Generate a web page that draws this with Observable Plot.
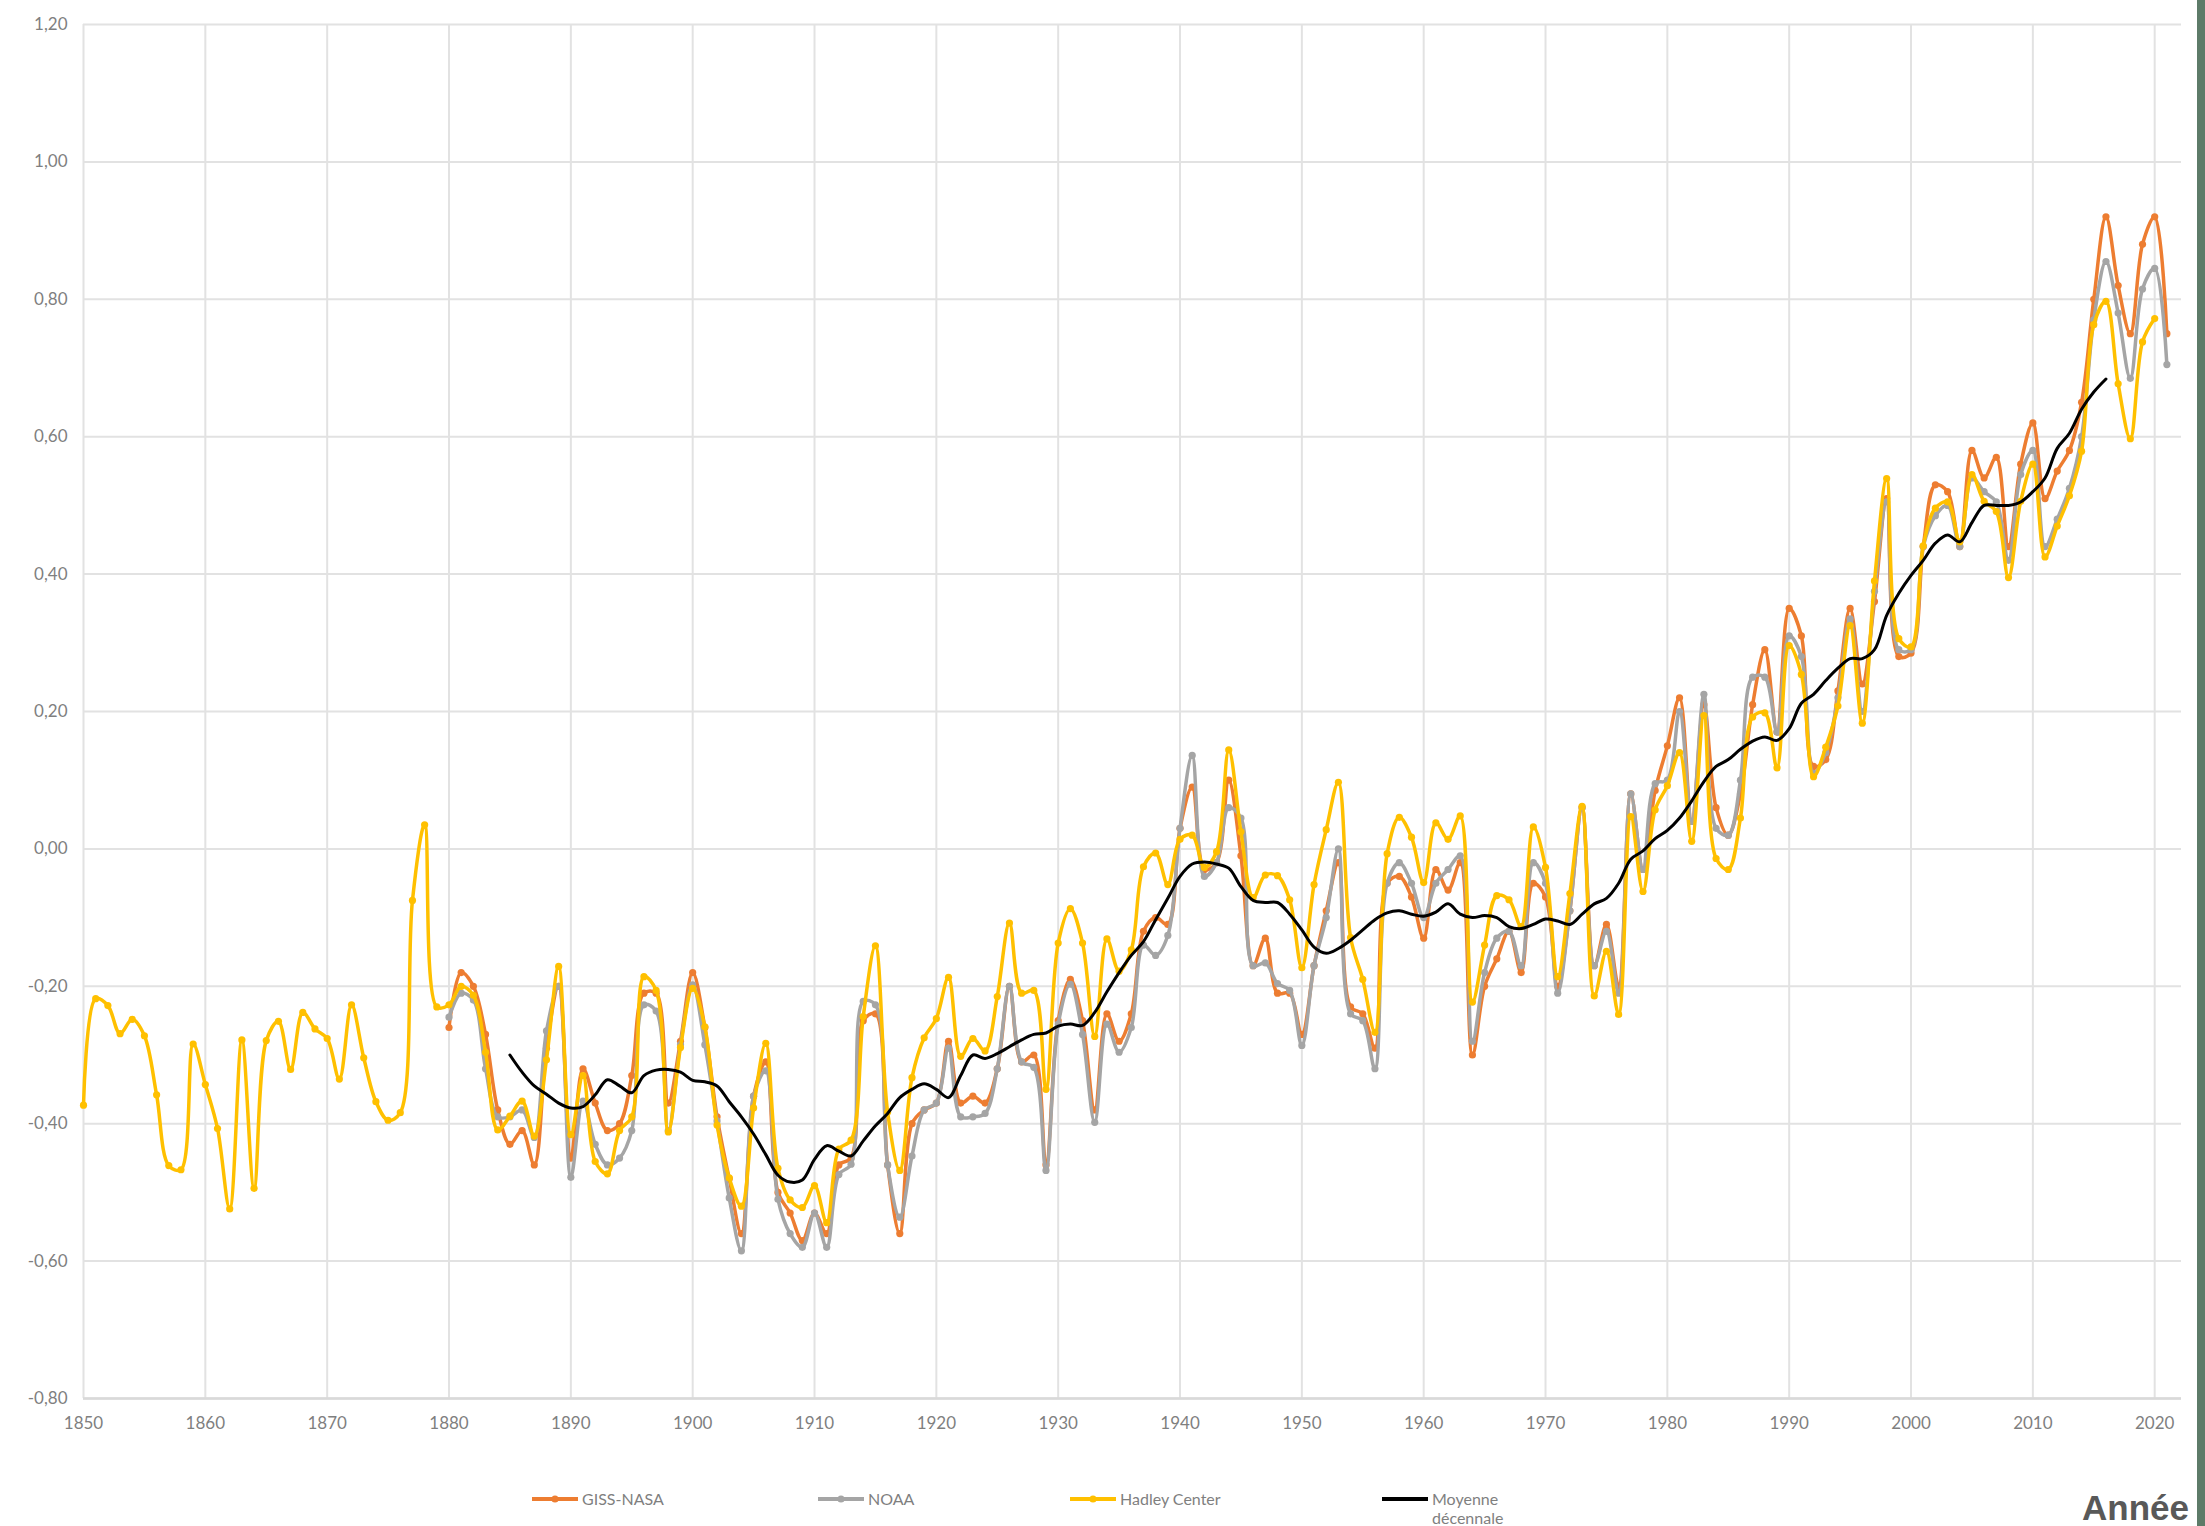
<!DOCTYPE html>
<html><head><meta charset="utf-8">
<script src="https://cdn.jsdelivr.net/npm/d3@7"></script>
<script src="https://cdn.jsdelivr.net/npm/@observablehq/plot@0.6"></script>
<style>
html,body{margin:0;padding:0;background:#fff;}
#wrap{position:relative;width:2205px;height:1526px;overflow:hidden;background:#fff;}
#chart{position:absolute;left:0;top:0;}
.legtxt{position:absolute;font-family:Lato,"Open Sans",sans-serif;font-size:16px;color:#7f7f7f;line-height:19px;white-space:normal;}
.sw{position:absolute;}
#annee{position:absolute;left:2082px;top:1490px;font-family:"Liberation Sans",Arial,sans-serif;font-weight:bold;font-size:35px;color:#595959;line-height:36px;}
#edge{position:absolute;left:2197px;top:0;width:8px;height:1526px;background:#5d7b68;}
</style></head>
<body><div id="wrap"><div id="chart"></div><div id="legend"></div><div id="annee">Année</div><div id="edge"></div></div>
<script>
// ---- data ----
const xTickYears = [1850,1860,1870,1880,1890,1900,1910,1920,1930,1940,1950,1960,1970,1980,1990,2000,2010,2020];
const yTickValues = [-0.8,-0.6,-0.4,-0.2,0,0.2,0.4,0.6,0.8,1.0,1.2];

const seriesNames = ["GISS-NASA","NOAA","Hadley Center","Moyenne décennale"];
const seriesColors = ["#ED7D31","#A5A5A5","#FFC000","#000000"];

const hadleyStart = 1850;
const hadleyValues = [
-0.373,-0.218,-0.228,-0.269,-0.248,-0.272,-0.358,-0.461,-0.467,-0.284,
-0.343,-0.407,-0.524,-0.278,-0.494,-0.279,-0.251,-0.321,-0.238,-0.262,
-0.276,-0.335,-0.227,-0.304,-0.368,-0.395,-0.384,-0.075,0.035,-0.230,
-0.227,-0.200,-0.213,-0.296,-0.409,-0.389,-0.367,-0.418,-0.307,-0.171,
-0.416,-0.330,-0.455,-0.473,-0.410,-0.390,-0.186,-0.206,-0.412,-0.289,
-0.203,-0.259,-0.402,-0.479,-0.520,-0.377,-0.283,-0.465,-0.511,-0.522,
-0.490,-0.544,-0.437,-0.424,-0.244,-0.141,-0.383,-0.468,-0.333,-0.275,
-0.247,-0.187,-0.302,-0.276,-0.294,-0.215,-0.108,-0.210,-0.206,-0.350,
-0.137,-0.087,-0.137,-0.273,-0.131,-0.178,-0.147,-0.026,-0.006,-0.052,
0.014,0.020,-0.027,-0.004,0.144,0.025,-0.071,-0.038,-0.039,-0.074,
-0.173,-0.052,0.028,0.097,-0.129,-0.190,-0.267,-0.007,0.046,0.017,
-0.049,0.038,0.014,0.048,-0.223,-0.140,-0.068,-0.074,-0.113,0.032,
-0.027,-0.186,-0.065,0.062,-0.214,-0.149,-0.241,0.047,-0.062,0.057,
0.092,0.140,0.011,0.194,-0.014,-0.030,0.045,0.192,0.198,0.118,
0.296,0.254,0.105,0.148,0.208,0.325,0.183,0.390,0.539,0.306,
0.294,0.441,0.496,0.505,0.447,0.545,0.506,0.491,0.395,0.506,
0.560,0.425,0.470,0.514,0.579,0.763,0.797,0.677,0.597,0.738,
0.772];

const gissStart = 1880;
const gissValues = [
-0.26,-0.18,-0.20,-0.27,-0.38,-0.43,-0.41,-0.46,-0.29,-0.20,
-0.45,-0.32,-0.37,-0.41,-0.40,-0.33,-0.21,-0.21,-0.37,-0.28,
-0.18,-0.26,-0.39,-0.48,-0.56,-0.36,-0.31,-0.50,-0.53,-0.57,
-0.53,-0.56,-0.46,-0.45,-0.25,-0.24,-0.46,-0.56,-0.40,-0.38,
-0.37,-0.28,-0.37,-0.36,-0.37,-0.32,-0.20,-0.31,-0.30,-0.46,
-0.25,-0.19,-0.25,-0.38,-0.24,-0.28,-0.24,-0.12,-0.10,-0.11,
0.03,0.09,-0.03,-0.02,0.10,-0.01,-0.17,-0.13,-0.21,-0.21,
-0.27,-0.17,-0.09,-0.02,-0.23,-0.24,-0.29,-0.05,-0.04,-0.07,
-0.13,-0.03,-0.06,-0.02,-0.30,-0.20,-0.16,-0.12,-0.18,-0.05,
-0.07,-0.20,-0.09,0.06,-0.17,-0.11,-0.20,0.08,-0.03,0.085,
0.15,0.22,0.04,0.21,0.06,0.02,0.08,0.21,0.29,0.17,
0.35,0.31,0.12,0.13,0.23,0.35,0.24,0.36,0.51,0.28,
0.285,0.44,0.53,0.52,0.44,0.58,0.54,0.57,0.44,0.56,
0.62,0.51,0.55,0.58,0.65,0.80,0.92,0.82,0.75,0.88,
0.92,0.75];

const noaaStart = 1880;
const noaaValues = [
-0.245,-0.21,-0.22,-0.32,-0.39,-0.39,-0.38,-0.42,-0.265,-0.20,
-0.478,-0.367,-0.43,-0.46,-0.45,-0.41,-0.227,-0.236,-0.41,-0.285,
-0.198,-0.285,-0.396,-0.508,-0.585,-0.36,-0.323,-0.51,-0.56,-0.58,
-0.53,-0.58,-0.474,-0.459,-0.222,-0.227,-0.46,-0.536,-0.447,-0.38,
-0.37,-0.29,-0.39,-0.39,-0.385,-0.32,-0.20,-0.31,-0.318,-0.468,
-0.255,-0.197,-0.27,-0.398,-0.255,-0.296,-0.26,-0.14,-0.155,-0.126,
0.03,0.136,-0.04,-0.02,0.06,0.045,-0.17,-0.166,-0.196,-0.206,
-0.286,-0.17,-0.10,0.00,-0.24,-0.25,-0.32,-0.05,-0.02,-0.05,
-0.10,-0.05,-0.03,-0.01,-0.28,-0.18,-0.13,-0.12,-0.17,-0.02,
-0.05,-0.21,-0.09,0.06,-0.17,-0.12,-0.21,0.08,-0.03,0.095,
0.10,0.20,0.04,0.225,0.03,0.02,0.10,0.25,0.25,0.17,
0.31,0.28,0.11,0.14,0.22,0.335,0.20,0.375,0.505,0.29,
0.29,0.44,0.485,0.50,0.44,0.54,0.52,0.505,0.42,0.545,
0.58,0.44,0.48,0.525,0.60,0.77,0.855,0.78,0.685,0.815,
0.845,0.705];

const avgStart = 1885;
const avgValues = [
-0.300,-0.325,-0.345,-0.357,-0.370,-0.377,-0.375,-0.358,-0.336,-0.345,
-0.355,-0.330,-0.322,-0.321,-0.325,-0.337,-0.339,-0.345,-0.368,-0.390,
-0.415,-0.445,-0.475,-0.485,-0.482,-0.452,-0.432,-0.440,-0.447,-0.425,
-0.403,-0.385,-0.362,-0.350,-0.342,-0.350,-0.362,-0.330,-0.300,-0.305,
-0.298,-0.288,-0.278,-0.270,-0.268,-0.258,-0.255,-0.257,-0.238,-0.208,
-0.180,-0.155,-0.135,-0.103,-0.072,-0.040,-0.022,-0.019,-0.022,-0.028,
-0.055,-0.075,-0.078,-0.078,-0.095,-0.118,-0.143,-0.152,-0.145,-0.133,
-0.118,-0.103,-0.093,-0.090,-0.095,-0.098,-0.092,-0.080,-0.095,-0.100,
-0.097,-0.100,-0.113,-0.116,-0.110,-0.102,-0.105,-0.110,-0.095,-0.080,
-0.072,-0.050,-0.015,-0.003,0.015,0.027,0.045,0.070,0.098,0.120,
0.130,0.145,0.157,0.163,0.158,0.175,0.212,0.225,0.245,0.263,
0.277,0.277,0.290,0.340,0.372,0.398,0.420,0.445,0.457,0.447,
0.475,0.500,0.500,0.500,0.505,0.520,0.540,0.583,0.605,0.640,
0.665,0.684];

// ---- build ----
const toRows = (start, vals) => vals.map((v, i) => ({year: start + i, value: v}));
const giss = toRows(gissStart, gissValues);
const noaa = toRows(noaaStart, noaaValues);
const hadley = toRows(hadleyStart, hadleyValues);
const avg = toRows(avgStart, avgValues);

const fmtY = d => d.toFixed(2).replace(".", ",");
const gridColor = "#e2e2e2";
const lw = 3.5, dotR = 3.6;

const chart = Plot.plot({
  width: 2205,
  height: 1440,
  marginLeft: 83,
  marginRight: 24,
  marginTop: 24,
  marginBottom: 42,
  x: {domain: [1850, 2022.2], label: null},
  y: {domain: [-0.8, 1.2], label: null},
  style: {fontFamily: "Lato, 'Open Sans', sans-serif", fontSize: "17px", color: "#7f7f7f", background: "#fff"},
  marks: [
    Plot.ruleX(xTickYears, {stroke: gridColor, strokeWidth: 2}),
    Plot.ruleY(yTickValues, {stroke: gridColor, strokeWidth: 2}),
    Plot.ruleY([-0.8], {stroke: "#d9d9d9", strokeWidth: 2.5}),
    Plot.axisX(xTickYears, {tickSize: 0, tickPadding: 18, tickFormat: d => String(d), label: null}),
    Plot.axisY(yTickValues, {tickSize: 0, tickPadding: 16, tickFormat: fmtY, label: null}),
    Plot.line(giss, {x: "year", y: "value", stroke: seriesColors[0], strokeWidth: lw, curve: "catmull-rom"}),
    Plot.dot(giss, {x: "year", y: "value", r: dotR, fill: seriesColors[0], stroke: "none"}),
    Plot.line(noaa, {x: "year", y: "value", stroke: seriesColors[1], strokeWidth: lw, curve: "catmull-rom"}),
    Plot.dot(noaa, {x: "year", y: "value", r: dotR, fill: seriesColors[1], stroke: "none"}),
    Plot.line(hadley, {x: "year", y: "value", stroke: seriesColors[2], strokeWidth: lw, curve: "catmull-rom"}),
    Plot.dot(hadley, {x: "year", y: "value", r: dotR, fill: seriesColors[2], stroke: "none"}),
    Plot.line(avg, {x: "year", y: "value", stroke: seriesColors[3], strokeWidth: 3, curve: "catmull-rom"})
  ]
});
document.getElementById("chart").appendChild(chart);

// ---- legend (HTML below the plot) ----
const legX = [532, 818, 1070, 1382];
const legY = 1499;
const leg = document.getElementById("legend");
seriesNames.forEach((name, i) => {
  const sw = document.createElementNS("http://www.w3.org/2000/svg", "svg");
  sw.setAttribute("class", "sw");
  sw.setAttribute("width", 48); sw.setAttribute("height", 12);
  sw.style.left = legX[i] + "px"; sw.style.top = (legY - 6) + "px";
  const ln = document.createElementNS("http://www.w3.org/2000/svg", "line");
  ln.setAttribute("x1", 0); ln.setAttribute("x2", 46); ln.setAttribute("y1", 6); ln.setAttribute("y2", 6);
  ln.setAttribute("stroke", seriesColors[i]); ln.setAttribute("stroke-width", 4);
  sw.appendChild(ln);
  if (i < 3) {
    const c = document.createElementNS("http://www.w3.org/2000/svg", "circle");
    c.setAttribute("cx", 23); c.setAttribute("cy", 6); c.setAttribute("r", 3.6);
    c.setAttribute("fill", seriesColors[i]);
    sw.appendChild(c);
  }
  leg.appendChild(sw);
  const t = document.createElement("div");
  t.className = "legtxt";
  t.textContent = name;
  t.style.left = (legX[i] + 50) + "px";
  t.style.top = (legY - 10) + "px";
  if (i === 3) t.style.width = "80px";
  leg.appendChild(t);
});
</script>
</body></html>
